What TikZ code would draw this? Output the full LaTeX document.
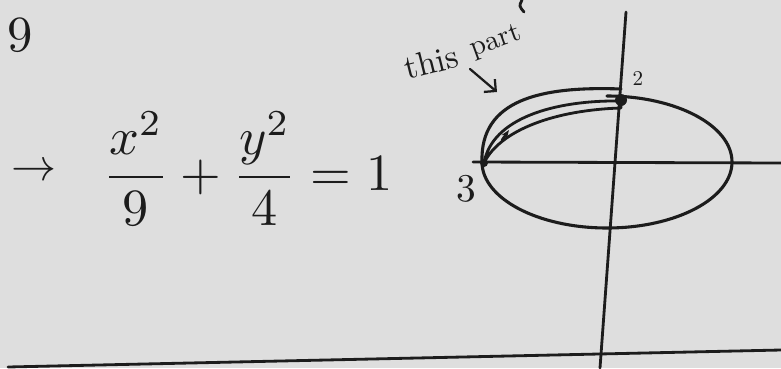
\documentclass[tikz,border=0pt]{standalone}
\usetikzlibrary{arrows.meta, positioning}
\definecolor{paper}{RGB}{222,222,222}
\definecolor{ink}{RGB}{28,28,28}

\begin{document}
\begin{tikzpicture}[x=0.025cm, y=-0.025cm, line cap=round, line join=round]
    % Paper sheet
    \fill[paper] (0,0) rectangle (781,368);
    \useasboundingbox (0,0) rectangle (781,368);

    % Problem number and equation
    \node[ink, scale=3.6] (num) at (20,35) {9};
    \node[ink, scale=3.2] (lead) at (34,172) {$\rightarrow$};
    \node[ink, scale=3.72, inner sep=0pt, anchor=west] (eqn) at (102,169) {$\displaystyle \frac{x^2}{9} + \frac{y^2}{4} = 1$};

    % Axes
    \coordinate (ytop) at (626,12);
    \coordinate (ybot) at (600,368);
    \coordinate (xleft) at (473,162);
    \coordinate (xright) at (781,163);
    \draw[ink, line width=2pt] (ybot) -- (ytop);
    \draw[ink, line width=2pt] (xleft) -- (xright);

    % Ellipse (upper left drawn a bit wide)
    \coordinate (p3) at (484,163);
    \draw[ink, line width=2.2pt] (607,96) arc [start angle=-90, end angle=180, x radius=125, y radius=66]
        .. controls (480,100) and (540,86) .. (621,89);

    % Marked points
    \coordinate (p2) at (621,101);
    \coordinate (p2in) at (621,108);
    \fill[ink] (621,100) circle [radius=6];
    \fill[ink] (p3) circle [radius=4];
    \node[ink, scale=1.5] (lab2) at (638,78) {2};
    \node[ink, scale=2.8] (lab3) at (466,189) {3};

    % Highlighted arc from 3 to 2
    \draw[ink, line width=2pt] (p3) .. controls (492,118) and (555,100) .. (p2)
        -- (p2in) .. controls (555,110) and (500,130) .. (p3);
    \draw[ink, line width=1.8pt, -{Stealth[length=6pt]}] (502,140) -- (509,130);

    % Annotation
    \node[ink, scale=2.4, rotate=14] (notea) at (431,62) {this};
    \node[ink, scale=2, rotate=20] (noteb) at (496,42) {part};
    \coordinate (tip) at (497,92);
    \draw[ink, line width=1.6pt, -{Straight Barb[length=6pt]}] (470,69) -- (tip);

    % Stray stroke at top edge
    \draw[ink, line width=2pt] (522,0) .. controls (519,6) .. (524,12);

    % Ruled line
    \coordinate (rulel) at (8,367);
    \coordinate (ruler) at (781,350);
    \draw[ink, line width=2pt] (rulel) -- (ruler);
\end{tikzpicture}
\end{document}
